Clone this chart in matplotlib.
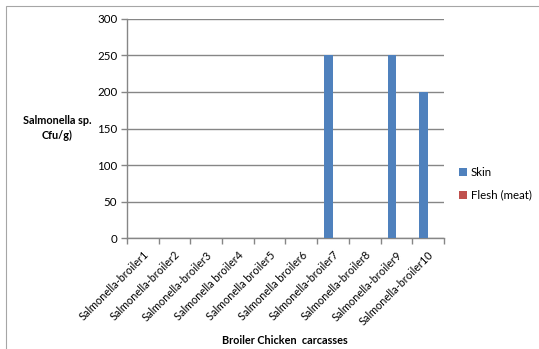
import numpy as np
import matplotlib
matplotlib.use("Agg")
import matplotlib.pyplot as plt
from matplotlib.patches import Rectangle

plt.rcParams['font.family'] = ['Lato', 'DejaVu Sans']

# carcass samples and plate counts (cfu/g)
carcasses = ["Salmonella-broiler1", "Salmonella-broiler2", "Salmonella-broiler3",
             "Salmonella broiler4", "Salmonella broiler5", "Salmonella broiler6",
             "Salmonella-broiler7", "Salmonella-broiler8", "Salmonella-broiler9",
             "Salmonella-broiler10"]
skin = [0, 0, 0, 0, 0, 0, 250, 0, 250, 200]
flesh = [0, 0, 0, 0, 0, 0, 0, 0, 0, 0]

gridcol = '#868686'
fig = plt.figure(figsize=(5.39, 3.49), dpi=100)
ax = fig.add_axes([0.2356, 0.318, 0.588, 0.6276])

# chart border
fig.patches.append(Rectangle((6 / 539, -0.2), 1.2, 1.2 - 6 / 349,
                             transform=fig.transFigure, fill=False,
                             edgecolor='#a6a6a6', linewidth=0.8))

x = np.arange(len(carcasses))
w = 0.28
ax.bar(x - w / 2, skin, width=w, color='#4F81BD', label='Skin', zorder=3)
ax.bar(x + w / 2, flesh, width=w, color='#C0504D', label='Flesh (meat)', zorder=3)

ax.set_xlim(-0.5, len(carcasses) - 0.5)
ax.set_ylim(0, 300)
ax.set_yticks(range(0, 301, 50))
ax.yaxis.grid(True, color=gridcol, linewidth=1.0, zorder=0)
ax.set_axisbelow(True)

ax.set_xticks(x)
ax.set_xticklabels(carcasses, rotation=45, ha='right', rotation_mode='anchor', fontsize=7.8)
ax.set_xticks(np.arange(-0.5, len(carcasses)), minor=True)
ax.tick_params(axis='x', which='major', length=0, pad=8)
ax.tick_params(axis='x', which='minor', length=4, color=gridcol, width=1.0)
ax.tick_params(axis='y', length=4, color=gridcol, width=1.0, labelsize=8.3, pad=3)

for s in ['top', 'right']:
    ax.spines[s].set_visible(False)
for s in ['left', 'bottom']:
    ax.spines[s].set_color(gridcol)
    ax.spines[s].set_linewidth(1.0)

fig.text(57 / 539, 1 - 128 / 349, "Salmonella sp.\nCfu/g)", ha='center', va='center',
         fontsize=7.8, fontweight='bold', linespacing=1.5)
fig.text(285 / 539, 1 - 341 / 349, "Broiler Chicken  carcasses", ha='center', va='center',
         fontsize=7.8, fontweight='bold')

leg = ax.legend(loc='center left', bbox_to_anchor=(459 / 539, 1 - 184 / 349),
                bbox_transform=fig.transFigure, frameon=False, fontsize=8.3,
                handlelength=0.7, handleheight=0.7, handletextpad=0.3, labelspacing=1.0,
                borderaxespad=0, borderpad=0)

fig.savefig('out.png', dpi=100, facecolor='white')
